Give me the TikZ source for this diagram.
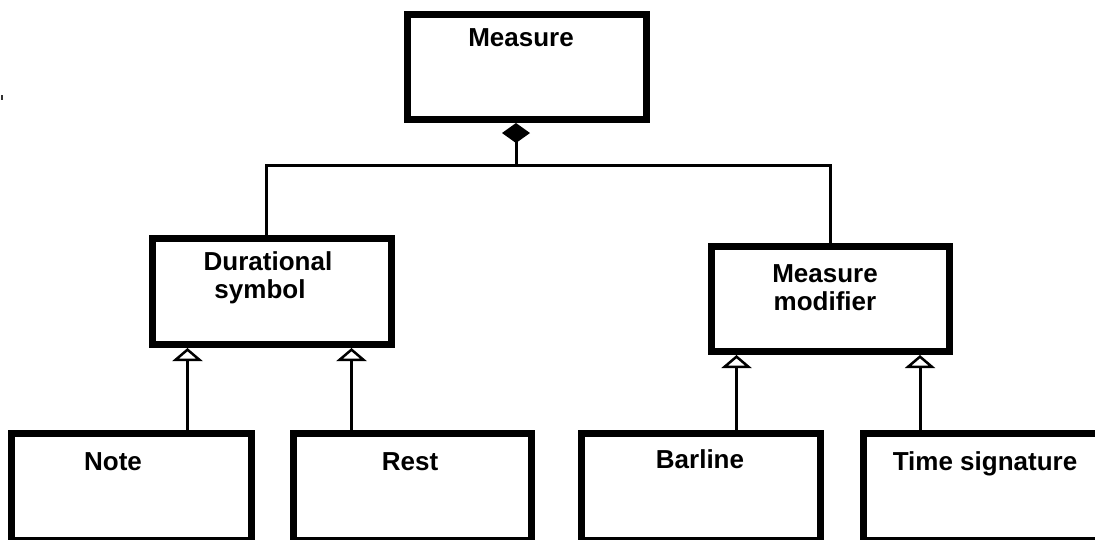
\documentclass[tikz,border=0pt]{standalone}
\usepackage{fontspec}
\setmainfont{Liberation Sans}
\usetikzlibrary{arrows.meta}

\begin{document}
\begin{tikzpicture}[x=1pt,y=-1pt,
  classbox/.style={draw=black, line width=7pt, rectangle, inner sep=0pt,
    minimum width=239pt, minimum height=105pt, fill=white},
  label/.style={anchor=base, inner sep=0pt, text=black,
    font=\fontsize{26}{29}\selectfont\bfseries},
  link/.style={draw=black, line width=3pt},
  inherit/.style={link, -{Triangle[open, length=13pt, width=30pt, line width=2.5pt]}},
  compose/.style={link, {Diamond[length=20pt, width=28pt]}-}
]
  \fill[white] (0,0) rectangle (1095,539);
  \clip (0,0) rectangle (1095,539);
  \useasboundingbox (0,0) rectangle (1095,539);

  % stray mark at the left edge
  \fill[black!80] (1,95) rectangle (3,100);

  % class boxes
  \node[classbox] (measure) at (527,67) {};
  \node[classbox, minimum height=106pt] (dur) at (272,291.5) {};
  \node[classbox, minimum width=238pt] (mod) at (830.5,299) {};
  \node[classbox, minimum width=240pt, minimum height=107pt] (note) at (131.5,487) {};
  \node[classbox, minimum width=238pt, minimum height=107pt] (rest) at (412.5,487) {};
  \node[classbox, minimum height=107pt] (bar) at (701,487) {};
  \node[classbox, minimum height=107pt] (time) at (983,487) {};

  % class names
  \node[label] (tmeasure) at (521,46) {Measure};
  \node[label] (tdur1) at (268,270) {Durational};
  \node[label] (tdur2) at (260,298) {symbol};
  \node[label] (tmod1) at (825,282) {Measure};
  \node[label] (tmod2) at (825,310) {modifier};
  \node[label] (tnote) at (113,470) {Note};
  \node[label] (trest) at (410,470) {Rest};
  \node[label] (tbar) at (700,468) {Barline};
  \node[label] (ttime) at (985,470) {Time signature};

  % composition tree
  \coordinate (jc) at (516,165);
  \coordinate (jl) at (266,165);
  \coordinate (jr) at (830,165);
  \draw[compose] (measure.south -| jc) -- (jc);
  \draw[link, line join=miter] (dur.north -| jl) -- (jl) -- (jr) -- (mod.north -| jr);

  % generalisations
  \coordinate (xa) at (187.5,0);
  \coordinate (xb) at (351.5,0);
  \coordinate (xc) at (736.5,0);
  \coordinate (xd) at (920,0);
  \draw[inherit] (note.north -| xa) -- (dur.south -| xa);
  \draw[inherit] (rest.north -| xb) -- (dur.south -| xb);
  \draw[inherit] (bar.north -| xc) -- (mod.south -| xc);
  \draw[inherit] (time.north -| xd) -- (mod.south -| xd);
\end{tikzpicture}
\end{document}
